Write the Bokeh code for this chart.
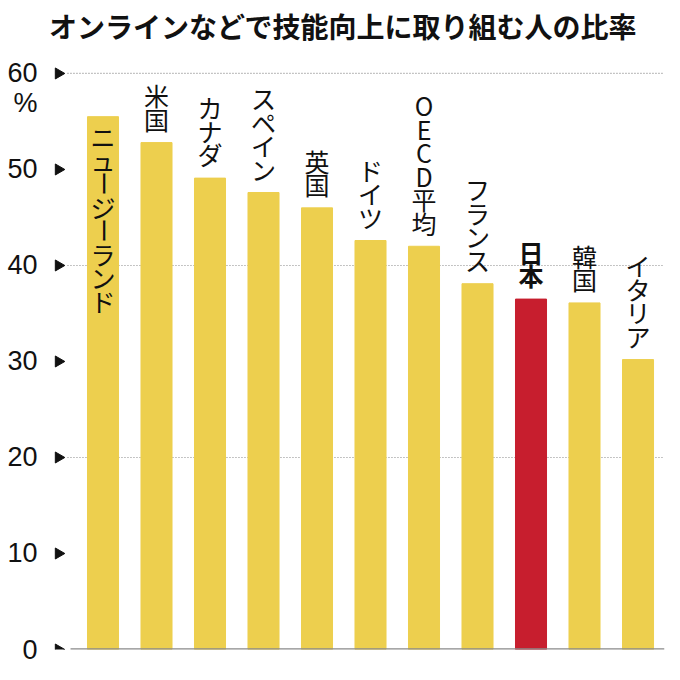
import numpy as np
from bokeh.plotting import figure
from bokeh.models import ColumnDataSource, FixedTicker, Range1d, Label
from bokeh.embed import file_html
from bokeh.resources import INLINE
from bokeh.core.properties import value

# ---- data ----
title_text = "オンラインなどで技能向上に取り組む人の比率"
categories = ["ニュージーランド", "米国", "カナダ", "スペイン", "英国", "ドイツ",
              "OECD平均", "フランス", "日本", "韓国", "イタリア"]
values = [55.5, 52.8, 49.1, 47.6, 46.0, 42.6, 42.0, 38.1, 36.5, 36.1, 30.2]
highlight = "日本"
inside_label = "ニュージーランド"
yticks = [0, 10, 20, 30, 40, 50, 60]
grid_levels = [20, 40, 60]
unit_label = "%"
unit_pos = 56.9

# ---- styles ----
YELLOW = "#EDCF4E"
RED = "#C71E2E"
JP_FONT = "Noto Sans CJK JP"
NUM_FONT = "Liberation Sans"
PITCH = 23.5
FONT_PX = "25px"
GAP = 12
INSIDE_PAD = 8

idx = list(range(len(categories)))
colors = [RED if c == highlight else YELLOW for c in categories]

p = figure(width=672, height=672,
           x_range=Range1d(-1.0187, 10.495), y_range=Range1d(0, 67.6),
           output_backend="svg", toolbar_location=None,
           min_border_left=48, min_border_right=8,
           min_border_top=0, min_border_bottom=23)

p.xaxis.visible = False
p.xgrid.visible = False
p.ygrid.visible = False
p.outline_line_color = None
p.background_fill_color = "white"
p.border_fill_color = "white"

yax = p.yaxis[0]
yax.ticker = FixedTicker(ticks=yticks + [unit_pos])
yax.major_label_overrides = {unit_pos: unit_label}
yax.major_tick_line_color = None
yax.minor_tick_line_color = None
yax.axis_line_color = None
yax.major_label_text_font = NUM_FONT
yax.major_label_text_font_size = "27px"
yax.major_label_text_color = "#111111"
yax.major_label_standoff = 5

# title
p.add_layout(Label(x=4.486, y=64.9, text=title_text, text_align="center",
                   text_baseline="middle", text_font=JP_FONT,
                   text_font_size="28px", text_font_style="bold",
                   text_color="#111111"))

# dotted gridlines behind bars
p.segment(x0=[-0.664] * len(grid_levels), x1=[10.495] * len(grid_levels),
          y0=grid_levels, y1=grid_levels,
          line_color="#8a8a8a", line_width=1.2, line_dash="1 2")

# tick triangles
p.scatter(x=[-0.832] * len(yticks), y=yticks, marker="triangle",
          angle=-np.pi / 2, size=11, color="#111111")

# bars
src = ColumnDataSource(dict(x=idx, top=values, color=colors))
p.vbar(x="x", top="top", width=0.58, color="color", source=src)

# baseline
p.segment(x0=[-0.607], x1=[10.495], y0=[0], y1=[0],
          line_color="#8a8a8a", line_width=2.5)

# vertical stacked labels
rows = {"normal": dict(x=[], y=[], yo=[], t=[], a=[]),
        "bold": dict(x=[], y=[], yo=[], t=[], a=[])}
for i, (c, v) in enumerate(zip(categories, values)):
    key = "bold" if c == highlight else "normal"
    chars = list(c)
    n = len(chars)
    for k, ch in enumerate(chars):
        if c == inside_label:
            yo = INSIDE_PAD + PITCH * k + PITCH / 2
        else:
            yo = -(GAP + PITCH * (n - 1 - k) + PITCH / 2)
        rows[key]["x"].append(i)
        rows[key]["y"].append(v)
        rows[key]["yo"].append(yo)
        rows[key]["t"].append(ch)
        rows[key]["a"].append(np.pi / 2 if ch == "ー" else 0.0)

for key, d in rows.items():
    s = ColumnDataSource(d)
    p.text(x="x", y="y", text="t", y_offset="yo", angle="a", source=s,
           text_align="center", text_baseline="middle",
           text_font=value(JP_FONT), text_font_size=FONT_PX,
           text_font_style=key, text_color="#111111")

open("out.html", "w").write(file_html(p, INLINE))
